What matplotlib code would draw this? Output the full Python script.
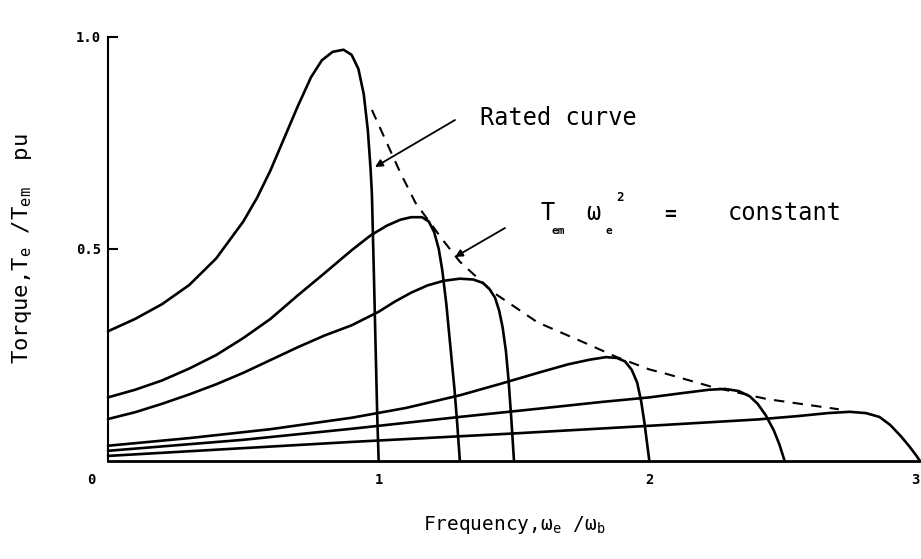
import matplotlib
matplotlib.use("Agg")
import matplotlib.pyplot as plt

plt.rcParams['font.family'] = ['DejaVu Sans Mono', 'DejaVu Sans']
plt.rcParams['mathtext.fontset'] = 'dejavusans'

# ---- torque / frequency curves ----
c1_x = [0, 0.1, 0.2, 0.3, 0.4, 0.5, 0.55, 0.6, 0.65, 0.7, 0.75, 0.79, 0.83,
        0.87, 0.90, 0.925, 0.945, 0.96, 0.97, 0.975, 0.982, 0.989, 0.995, 1.0]
c1_y = [0.306, 0.335, 0.37, 0.415, 0.478, 0.565, 0.62, 0.685, 0.76, 0.835,
        0.905, 0.945, 0.965, 0.970, 0.958, 0.925, 0.865, 0.78, 0.69, 0.63,
        0.45, 0.26, 0.10, 0.0]

c2_x = [0, 0.1, 0.2, 0.3, 0.4, 0.5, 0.6, 0.7, 0.8, 0.9, 0.97, 1.03, 1.08,
        1.12, 1.16, 1.185, 1.205, 1.222, 1.235, 1.25, 1.266, 1.28, 1.29, 1.30]
c2_y = [0.150, 0.168, 0.19, 0.218, 0.25, 0.29, 0.335, 0.39, 0.443, 0.497,
        0.532, 0.555, 0.569, 0.575, 0.575, 0.565, 0.54, 0.50, 0.45, 0.37,
        0.263, 0.17, 0.09, 0.0]

c3_x = [0, 0.1, 0.2, 0.3, 0.4, 0.5, 0.6, 0.7, 0.8, 0.9, 1.0, 1.06, 1.12, 1.18,
        1.24, 1.30, 1.35, 1.385, 1.41, 1.43, 1.445, 1.458, 1.47, 1.48, 1.49,
        1.5]
c3_y = [0.099, 0.115, 0.135, 0.157, 0.181, 0.208, 0.238, 0.268, 0.296, 0.32,
        0.352, 0.376, 0.397, 0.414, 0.425, 0.43, 0.428, 0.42, 0.405, 0.385,
        0.355, 0.315, 0.26, 0.19, 0.10, 0.0]

c4_x = [0, 0.3, 0.6, 0.9, 1.1, 1.3, 1.45, 1.6, 1.7, 1.78, 1.84, 1.88, 1.91,
        1.935, 1.955, 1.97, 1.982, 1.992, 2.0]
c4_y = [0.036, 0.054, 0.075, 0.102, 0.125, 0.155, 0.182, 0.21, 0.228, 0.239,
        0.245, 0.243, 0.235, 0.215, 0.185, 0.14, 0.09, 0.04, 0.0]

c5_x = [0, 0.5, 0.9, 1.3, 1.6, 1.82, 2.0, 2.12, 2.22, 2.28, 2.33, 2.37, 2.40,
        2.43, 2.46, 2.48, 2.5]
c5_y = [0.024, 0.05, 0.076, 0.104, 0.124, 0.139, 0.15, 0.16, 0.168, 0.17,
        0.165, 0.153, 0.135, 0.108, 0.072, 0.04, 0.0]

c6_x = [0, 0.9, 1.5, 2.0, 2.4, 2.55, 2.66, 2.74, 2.8, 2.85, 2.89, 2.93, 2.96,
        2.985, 3.0]
c6_y = [0.012, 0.045, 0.065, 0.083, 0.098, 0.106, 0.113, 0.116, 0.113, 0.104,
        0.085, 0.058, 0.035, 0.014, 0.0]

# T_em * w_e^2 = constant boundary (dashed)
lim_x = [0.975, 1.08, 1.136, 1.236, 1.30, 1.425, 1.587, 1.757, 1.88, 2.0,
         2.066, 2.236, 2.435, 2.70]
lim_y = [0.828, 0.68, 0.609, 0.522, 0.47, 0.397, 0.327, 0.28, 0.245, 0.216,
         0.205, 0.174, 0.146, 0.122]

curves = [(c1_x, c1_y), (c2_x, c2_y), (c3_x, c3_y),
          (c4_x, c4_y), (c5_x, c5_y), (c6_x, c6_y)]

# ---- figure ----
W, H = 921, 559
fig = plt.figure(figsize=(W / 100, H / 100), dpi=100)
x0, x3, y0, y1 = 108, 920, 461, 37
ax = fig.add_axes([x0 / W, 1 - y0 / H, (x3 - x0) / W, (y0 - y1) / H])

for cx, cy in curves:
    ax.plot(cx, cy, color='black', lw=1.9, clip_on=False,
            solid_capstyle='round', solid_joinstyle='round')

ax.plot(lim_x, lim_y, color='black', lw=1.5, ls=(0, (5, 4)), clip_on=False)

ax.set_xlim(0, 3)
ax.set_ylim(0, 1.0)

for s in ['top', 'right']:
    ax.spines[s].set_visible(False)
ax.spines['left'].set_linewidth(1.5)
ax.spines['bottom'].set_linewidth(2.0)

ax.set_yticks([0.5, 1.0])
ax.set_yticklabels(['0.5', '1.0'], fontsize=10, fontweight='bold')
ax.tick_params(axis='y', direction='in', length=7.5, width=1.5, pad=5)

ax.set_xticks([1, 2, 3])
ax.set_xticklabels(['1', '2', '3'], fontsize=10, fontweight='bold')
ax.get_xticklabels()[-1].set_ha('right')
ax.tick_params(axis='x', length=0, pad=9)
ax.annotate('0', xy=(0, 0), xytext=(-12, -9), textcoords='offset points',
            ha='center', va='top', fontsize=10, fontweight='bold')

ax.set_xlabel(r'Frequency,ω$_\mathtt{e}$ /ω$_\mathtt{b}$', fontsize=14, labelpad=19)
ax.set_ylabel(r'Torque,T$_\mathtt{e}$ /T$_\mathtt{em}$  pu', fontsize=16, labelpad=30)

# ---- annotations ----
def px(x, y):
    return ((x - x0) / (x3 - x0) * 3, (y0 - y) / (y0 - y1))

arrow = dict(arrowstyle='-|>', lw=1.3, color='black', mutation_scale=11,
             shrinkA=0, shrinkB=0)
ax.annotate('', xy=px(375, 167), xytext=px(455, 120), arrowprops=arrow)
ax.annotate('', xy=px(455, 257), xytext=px(505, 228), arrowprops=arrow)

ax.text(*px(480, 125), 'Rated curve', fontsize=17, va='baseline', ha='left')

ax.text(*px(540, 220), 'T', fontsize=17, va='baseline', ha='left')
ax.text(*px(552, 234), 'em', fontsize=8, fontweight='bold', va='baseline', ha='left')
ax.text(*px(586, 220), 'ω', fontsize=17, va='baseline', ha='left')
ax.text(*px(605, 234), 'e', fontsize=8, fontweight='bold', va='baseline', ha='left')
ax.text(*px(616, 201), '2', fontsize=9, fontweight='bold', va='baseline', ha='left')
ax.text(*px(664, 220), '=', fontsize=14, fontweight='bold', va='baseline', ha='left')
ax.text(*px(728, 220), 'constant', fontsize=17, va='baseline', ha='left')

fig.savefig('out.png', dpi=100)
